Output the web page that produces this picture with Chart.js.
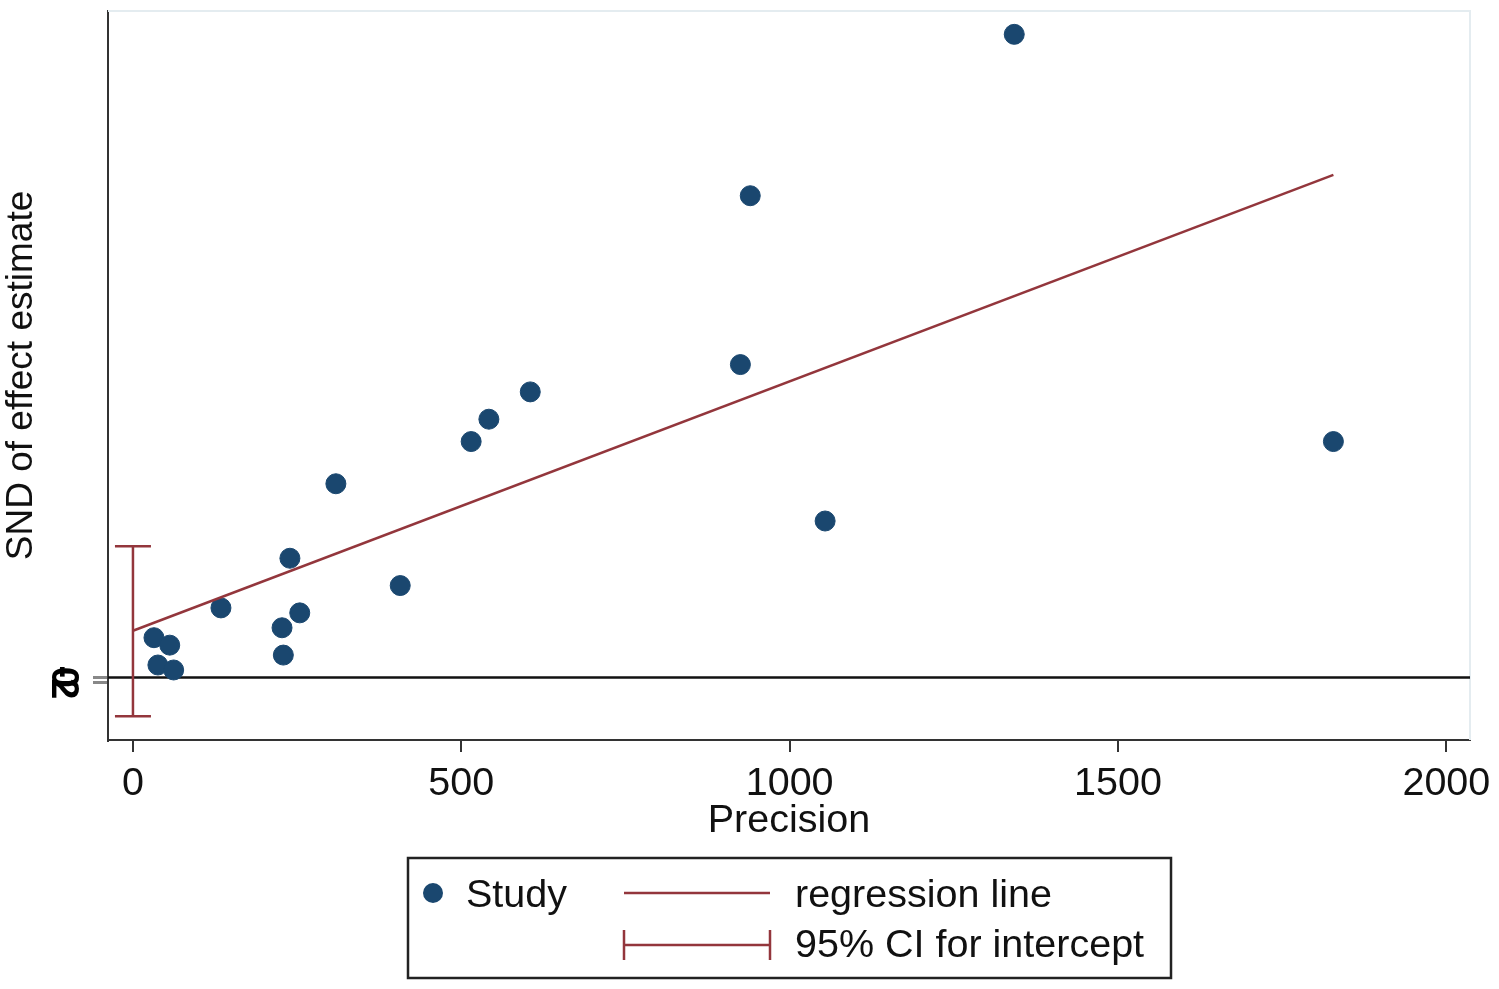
<!DOCTYPE html>
<html>
<head>
<meta charset="utf-8">
<script src="https://cdn.jsdelivr.net/npm/chart.js@4.4.1/dist/chart.umd.min.js"></script>
<style>
  body { margin: 0; background: #fff; }
  #wrap { width: 1499px; height: 989px; position: relative; }
</style>
</head>
<body>
<div id="wrap"><canvas id="myChart"></canvas></div>
<script>
// study points
const precision = [1342, 940, 925, 605, 542, 515, 1828, 309, 1054, 239, 407, 134, 254, 227, 229, 32, 56, 38, 62];
const snd = [259, 194, 126, 115, 104, 95, 95, 78, 63, 48, 37, 28, 26, 20, 9, 16, 13, 5, 3];

// regression line ends
const regX = [0, 1828];
const regY = [18.8, 202.4];

// 95% CI for intercept
const ciLow = -15.6;
const ciHigh = 52.8;

const xTicks = [0, 500, 1000, 1500, 2000];
const yTicks = [-2, 0];

const navy = '#1a476f';
const maroon = '#93363c';
const font = 'Liberation Sans, Arial, sans-serif';

const extras = {
    id: 'extras',
    beforeDatasetsDraw(chart) {
        const {ctx, chartArea, scales} = chart;
        // light frame on top / right
        ctx.save();
        ctx.strokeStyle = '#e4ecf0';
        ctx.lineWidth = 2;
        ctx.beginPath();
        ctx.moveTo(chartArea.left, chartArea.top);
        ctx.lineTo(chartArea.right, chartArea.top);
        ctx.lineTo(chartArea.right, chartArea.bottom);
        ctx.stroke();
        // line at zero
        const y0 = scales.y.getPixelForValue(0);
        ctx.strokeStyle = '#111';
        ctx.lineWidth = 2.5;
        ctx.beginPath();
        ctx.moveTo(chartArea.left, y0);
        ctx.lineTo(chartArea.right, y0);
        ctx.stroke();
        ctx.restore();
    },
    afterDatasetsDraw(chart) {
        const {ctx, scales} = chart;
        const x = scales.x.getPixelForValue(0);
        const yl = scales.y.getPixelForValue(ciLow);
        const yh = scales.y.getPixelForValue(ciHigh);
        ctx.save();
        ctx.strokeStyle = maroon;
        ctx.lineWidth = 2.5;
        ctx.beginPath();
        ctx.moveTo(x, yl); ctx.lineTo(x, yh);
        ctx.moveTo(x - 18, yl); ctx.lineTo(x + 18, yl);
        ctx.moveTo(x - 18, yh); ctx.lineTo(x + 18, yh);
        ctx.stroke();
        ctx.restore();
    },
    afterDraw(chart) {
        const ctx = chart.ctx;
        ctx.save();
        // legend box
        ctx.strokeStyle = '#222';
        ctx.lineWidth = 2.5;
        ctx.strokeRect(408, 858, 763, 120);
        ctx.fillStyle = navy;
        ctx.beginPath();
        ctx.arc(433, 893, 10, 0, Math.PI * 2);
        ctx.fill();
        ctx.strokeStyle = maroon;
        ctx.beginPath();
        ctx.moveTo(624, 893); ctx.lineTo(770, 893);
        ctx.moveTo(624, 945); ctx.lineTo(770, 945);
        ctx.moveTo(624, 930); ctx.lineTo(624, 960);
        ctx.moveTo(770, 930); ctx.lineTo(770, 960);
        ctx.stroke();
        ctx.fillStyle = '#111';
        ctx.font = '39.5px ' + font;
        ctx.textBaseline = 'middle';
        ctx.fillText('Study', 466, 896);
        ctx.fillText('regression line', 795, 896);
        ctx.fillText('95% CI for intercept', 795, 946);
        ctx.restore();
    }
};

const ctx = document.getElementById('myChart').getContext('2d');
const myChart = new Chart(ctx, {
    type: 'scatter',
    data: {
        datasets: [{
            label: 'regression line',
            type: 'line',
            data: regX.map((x, i) => ({x: x, y: regY[i]})),
            borderColor: maroon,
            borderWidth: 2.5,
            pointRadius: 0,
            fill: false
        }, {
            label: 'Study',
            data: precision.map((x, i) => ({x: x, y: snd[i]})),
            backgroundColor: navy,
            borderColor: navy,
            pointRadius: 10,
            pointHoverRadius: 10
        }]
    },
    options: {
        responsive: true,
        maintainAspectRatio: false,
        animation: false,
        layout: { padding: { left: 0, top: 3, right: 29, bottom: 144 } },
        plugins: {
            legend: { display: false },
            tooltip: { enabled: false }
        },
        scales: {
            x: {
                type: 'linear',
                min: -38,
                max: 2036,
                afterBuildTicks: (s) => { s.ticks = xTicks.map(v => ({value: v})); },
                afterFit: (s) => { s.height = 105; s.paddingLeft = 0; s.paddingRight = 0; },
                grid: { drawOnChartArea: false, tickLength: 12, color: '#333', lineWidth: 2 },
                border: { color: '#333', width: 2 },
                ticks: {
                    color: '#111', font: { family: font, size: 39.5 }, padding: 8,
                    maxRotation: 0, autoSkip: false, callback: (v) => String(v)
                },
                title: { display: true, text: 'Precision', color: '#111', font: { family: font, size: 39.5 }, padding: 0 }
            },
            y: {
                min: -25.2,
                max: 268.4,
                afterBuildTicks: (s) => { s.ticks = yTicks.map(v => ({value: v})); },
                afterFit: (s) => { s.width = 108; s.paddingTop = 0; s.paddingBottom = 0; },
                grid: { drawOnChartArea: false, tickLength: 15, color: '#888', lineWidth: 3 },
                border: { color: '#333', width: 2 },
                ticks: {
                    color: '#000', font: { family: font, size: 38, weight: 'bold' }, padding: 14,
                    minRotation: -90, maxRotation: -90, autoSkip: false, crossAlign: 'center',
                    callback: (v) => String(v)
                },
                title: { display: true, text: 'SND of effect estimate', color: '#111', font: { family: font, size: 37 }, padding: 0 }
            }
        }
    },
    plugins: [extras]
});
</script>
</body>
</html>
